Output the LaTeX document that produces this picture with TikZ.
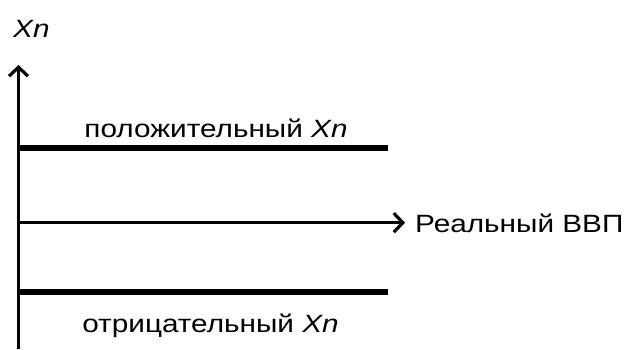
\documentclass[tikz,border=0pt]{standalone}
\usepackage{fontspec}
\setmainfont[FakeStretch=1.19]{Liberation Sans}
\usetikzlibrary{arrows.meta,positioning}

\begin{document}
\begin{tikzpicture}[x=1pt,y=1pt,
		axis/.style={line width=3.2pt,-{Straight Barb[length=9pt,width=19pt,line width=3.2pt]}},
		level/.style={line width=6pt},
		txt/.style={inner sep=0pt,font=\fontsize{25}{29}\selectfont}]
	\useasboundingbox (0,0) rectangle (628,349);

	% axes
	\coordinate (bottom) at (18.5,0);
	\coordinate (origin) at (18.5,126.3);
	\coordinate (ytip) at (18.5,284);
	\coordinate (xtip) at (405,126.3);
	\draw[axis] (bottom) -- (ytip);
	\draw[axis] (origin) -- (xtip);
	\node[txt,anchor=base west] (ylabel) at (13,312) {\itshape Xn};
	\node[txt,anchor=base west] (xlabel) at (415,117) {Реальный ВВП};

	% positive and negative levels
	\coordinate (posleft) at (18.5,200.7);
	\coordinate (posright) at (388,200.7);
	\coordinate (negleft) at (18.5,57);
	\coordinate (negright) at (388,57);
	\draw[level] (posleft) -- (posright);
	\draw[level] (negleft) -- (negright);
	\node[txt,anchor=base] (pos) at (216,212) {положительный \textit{Xn}};
	\node[txt,anchor=base] (neg) at (210.5,17) {отрицательный \textit{Xn}};
\end{tikzpicture}
\end{document}
